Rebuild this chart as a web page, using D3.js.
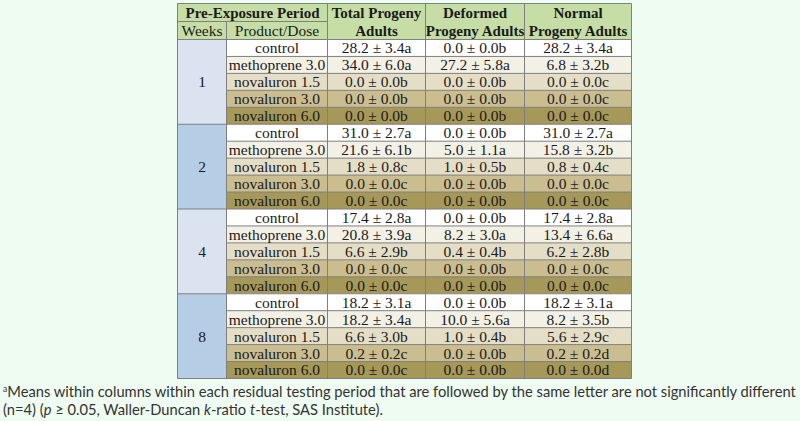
<!DOCTYPE html>
<html><head><meta charset="utf-8">
<script src="https://cdn.jsdelivr.net/npm/d3@7"></script>
<style>
html,body{margin:0;padding:0;background:#effcf1;}
svg{display:block;}
</style></head>
<body>
<svg id="chart" width="800" height="421"></svg>
<script>
// ---- data ----
const weeks = ["1", "2", "4", "8"];
const products = ["control", "methoprene 3.0", "novaluron 1.5", "novaluron 3.0", "novaluron 6.0"];
const totalProgeny = [
  "28.2 ± 3.4a","34.0 ± 6.0a","0.0 ± 0.0b","0.0 ± 0.0b","0.0 ± 0.0b",
  "31.0 ± 2.7a","21.6 ± 6.1b","1.8 ± 0.8c","0.0 ± 0.0c","0.0 ± 0.0c",
  "17.4 ± 2.8a","20.8 ± 3.9a","6.6 ± 2.9b","0.0 ± 0.0c","0.0 ± 0.0c",
  "18.2 ± 3.1a","18.2 ± 3.4a","6.6 ± 3.0b","0.2 ± 0.2c","0.0 ± 0.0c"];
const deformedProgeny = [
  "0.0 ± 0.0b","27.2 ± 5.8a","0.0 ± 0.0b","0.0 ± 0.0b","0.0 ± 0.0b",
  "0.0 ± 0.0b","5.0 ± 1.1a","1.0 ± 0.5b","0.0 ± 0.0b","0.0 ± 0.0b",
  "0.0 ± 0.0b","8.2 ± 3.0a","0.4 ± 0.4b","0.0 ± 0.0b","0.0 ± 0.0b",
  "0.0 ± 0.0b","10.0 ± 5.6a","1.0 ± 0.4b","0.0 ± 0.0b","0.0 ± 0.0b"];
const normalProgeny = [
  "28.2 ± 3.4a","6.8 ± 3.2b","0.0 ± 0.0c","0.0 ± 0.0c","0.0 ± 0.0c",
  "31.0 ± 2.7a","15.8 ± 3.2b","0.8 ± 0.4c","0.0 ± 0.0c","0.0 ± 0.0c",
  "17.4 ± 2.8a","13.4 ± 6.6a","6.2 ± 2.8b","0.0 ± 0.0c","0.0 ± 0.0c",
  "18.2 ± 3.1a","8.2 ± 3.5b","5.6 ± 2.9c","0.2 ± 0.2d","0.0 ± 0.0d"];
const headerTop = ["Pre-Exposure Period"];
const headerSub = ["Weeks", "Product/Dose"];
const valueHeaders = [["Total Progeny","Adults"],["Deformed","Progeny Adults"],["Normal","Progeny Adults"]];

// ---- layout ----
const svg = d3.select("#chart");
const colEdges = [177.5, 226.5, 327.5, 425.5, 524.5, 631.5];
const tableTop = 3.5, headMid = 21.5, headBot = 39.5, tableBot = 378.5;
const nRows = weeks.length * products.length;
const y = d3.scaleBand().domain(d3.range(nRows)).range([headBot, tableBot]).padding(0);
const wk = d3.scaleBand().domain(weeks).range([headBot, tableBot]).padding(0);
const rowFill = d3.scaleOrdinal().domain(products).range(["#ffffff","#f3f0e6","#e5dec6","#cabd90","#a59858"]);
const weekFill = d3.scaleOrdinal().domain(weeks).range(["#dbe3f1","#b6cde6","#dbe3f1","#b6cde6"]);
const valCols = [totalProgeny, deformedProgeny, normalProgeny];
const serif = "'Liberation Serif','Times New Roman',serif";
const stroke = "#7f7f7f";

const rows = d3.range(nRows).map(i => ({i, week: weeks[Math.floor(i/products.length)], prod: products[i % products.length]}));

// header backgrounds
svg.append("rect").attr("x", colEdges[0]).attr("y", tableTop)
  .attr("width", colEdges[5]-colEdges[0]).attr("height", headBot-tableTop).attr("fill", "#c6dea6");

// row backgrounds (product + values)
svg.selectAll("rect.row").data(rows).join("rect").attr("class","row")
  .attr("x", colEdges[1]).attr("y", d => y(d.i))
  .attr("width", colEdges[5]-colEdges[1]).attr("height", y.bandwidth())
  .attr("fill", d => rowFill(d.prod));

// week cells
svg.selectAll("rect.wk").data(weeks).join("rect").attr("class","wk")
  .attr("x", colEdges[0]).attr("y", d => wk(d))
  .attr("width", colEdges[1]-colEdges[0]).attr("height", wk.bandwidth())
  .attr("fill", d => weekFill(d));

// grid lines
const g = svg.append("g").attr("stroke", stroke).attr("stroke-width", 1);
g.selectAll("line.h").data(d3.range(nRows+1)).join("line")
  .attr("x1", d => (d % products.length === 0) ? colEdges[0] : colEdges[1])
  .attr("x2", colEdges[5])
  .attr("y1", d => d === nRows ? tableBot : y(d)).attr("y2", d => d === nRows ? tableBot : y(d));
g.append("line").attr("x1", colEdges[0]).attr("x2", colEdges[5]).attr("y1", tableTop).attr("y2", tableTop);
g.append("line").attr("x1", colEdges[0]).attr("x2", colEdges[2]).attr("y1", headMid).attr("y2", headMid);
colEdges.forEach((cx, k) => {
  g.append("line").attr("x1", cx).attr("x2", cx)
   .attr("y1", k === 1 ? headMid : tableTop).attr("y2", tableBot);
});

// header text
const ht = svg.append("g").attr("font-family", serif).attr("font-weight","bold").attr("font-size", 15)
  .attr("fill", "#1a1a1a").attr("text-anchor","middle");
ht.append("text").attr("x", (colEdges[0]+colEdges[2])/2).attr("y", (tableTop+headMid)/2).attr("dy","0.35em").text(headerTop[0]);
const st = svg.append("g").attr("font-family", serif).attr("font-size", 15.5).attr("fill","#1a1a1a").attr("text-anchor","middle");
headerSub.forEach((t,k) => st.append("text").attr("x", (colEdges[k]+colEdges[k+1])/2).attr("y", (headMid+headBot)/2).attr("dy","0.35em").text(t));
valueHeaders.forEach((lines,k) => {
  const cx = (colEdges[k+2]+colEdges[k+3])/2;
  lines.forEach((t,j) => ht.append("text").attr("x", cx)
    .attr("y", j===0 ? (tableTop+headMid)/2 : (headMid+headBot)/2).attr("dy","0.35em").text(t));
});

// body text
const bt = svg.append("g").attr("font-family", serif).attr("font-size", 15.5).attr("fill","#1a1a1a").attr("text-anchor","middle");
bt.selectAll("text.wk").data(weeks).join("text").attr("class","wk")
  .attr("x", (colEdges[0]+colEdges[1])/2).attr("y", d => wk(d) + wk.bandwidth()/2).attr("dy","0.35em").text(d => d);
bt.selectAll("text.prod").data(rows).join("text").attr("class","prod")
  .attr("x", (colEdges[1]+colEdges[2])/2).attr("y", d => y(d.i)+y.bandwidth()/2).attr("dy","0.35em").text(d => d.prod);
valCols.forEach((col,k) => {
  bt.selectAll("text.v"+k).data(col).join("text").attr("class","v"+k)
    .attr("x", (colEdges[k+2]+colEdges[k+3])/2).attr("y", (d,i) => y(i)+y.bandwidth()/2).attr("dy","0.35em").text(d => d);
});

// footnote
const fn = svg.append("g").attr("font-family","Lato,'Open Sans',sans-serif").attr("font-size", 14.7).attr("fill","#333");
const l1 = fn.append("text").attr("x", 3).attr("y", 397);
l1.append("tspan").attr("font-size", 8.5).attr("dy", -5).text("a");
l1.append("tspan").attr("dy", 5).text("Means within columns within each residual testing period that are followed by the same letter are not significantly different");
const l2 = fn.append("text").attr("x", 3).attr("y", 415);
l2.append("tspan").text("(n=4) (");
l2.append("tspan").attr("font-style","italic").text("p");
l2.append("tspan").text(" ≥ 0.05, Waller-Duncan ");
l2.append("tspan").attr("font-style","italic").text("k");
l2.append("tspan").text("-ratio ");
l2.append("tspan").attr("font-style","italic").text("t");
l2.append("tspan").text("-test, SAS Institute).");
</script>
</body></html>
